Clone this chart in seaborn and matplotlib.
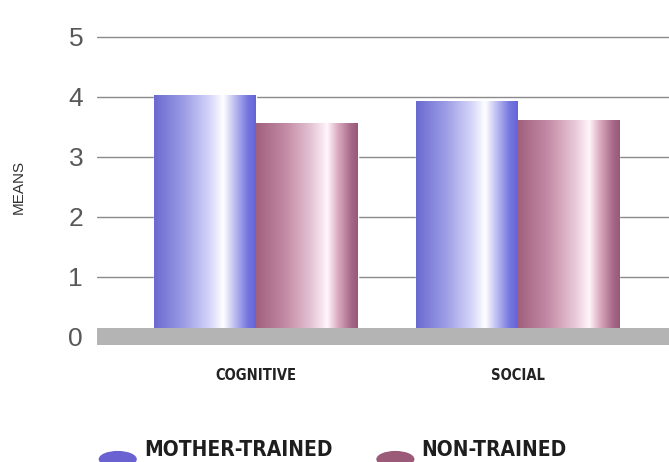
import numpy as np
import pandas as pd
import matplotlib
matplotlib.use("Agg")
import matplotlib.pyplot as plt
import seaborn as sns
from matplotlib.colors import LinearSegmentedColormap
from matplotlib.patches import Ellipse

categories = ["COGNITIVE", "SOCIAL"]
groups = ["MOTHER-TRAINED", "NON-TRAINED"]
mother_trained = [4.03, 3.93]
non_trained = [3.57, 3.62]
y_ticks = [0, 1, 2, 3, 4, 5]

df = pd.DataFrame({
    "category": categories * 2,
    "group": [groups[0]] * 2 + [groups[1]] * 2,
    "mean": mother_trained + non_trained,
})

sns.set_style("white")
narrow = dict(family=["DejaVu Sans"], stretch="condensed", weight="bold")

base_colors = {groups[0]: "#6a62d0", groups[1]: "#9a5a78"}
gradients = {
    groups[0]: LinearSegmentedColormap.from_list("blue_bar", [
        (0.0, "#6a6ad0"), (0.3, "#9e9ee6"), (0.55, "#d6d6fa"),
        (0.68, "#ffffff"), (0.78, "#c4c4f2"), (0.92, "#7676e0"), (1.0, "#6464d8")]),
    groups[1]: LinearSegmentedColormap.from_list("mauve_bar", [
        (0.0, "#a0607e"), (0.3, "#c48ca6"), (0.55, "#e6c6d6"),
        (0.7, "#fff6fa"), (0.8, "#dcaec2"), (0.93, "#a86a88"), (1.0, "#98587a")]),
}

fig = plt.figure(figsize=(6.69, 4.62), dpi=100)
ax = fig.add_axes([0.145, 0.2446, 0.855, 0.7143])

sns.barplot(data=df, x="category", y="mean", hue="group", hue_order=groups,
            palette=base_colors, width=0.78, ax=ax, legend=False,
            errorbar=None, zorder=2)

# cylinder-like shading on every bar
grad = np.linspace(0, 1, 256).reshape(1, -1)
for i, patch in enumerate(ax.patches):
    grp = groups[i // len(categories)]
    x0, y0 = patch.get_x(), patch.get_y()
    w, h = patch.get_width(), patch.get_height()
    im = ax.imshow(grad, cmap=gradients[grp], extent=[x0, x0 + w, y0, y0 + h],
                   aspect="auto", zorder=2.5, interpolation="bilinear")
    im.set_clip_path(patch)

# grey floor
ax.axhspan(-0.14, 0.15, xmin=0, xmax=1, color="#b4b4b4", zorder=3, lw=0)

ax.set_xlim(-0.61, 1.58)
ax.set_ylim(-0.2, 5.3)
ax.set_yticks(y_ticks)
for y in y_ticks[1:]:
    ax.axhline(y, color="#8a8a8a", lw=1, zorder=1)

ax.set_yticklabels([str(t) for t in y_ticks], fontsize=19, color="#585858",
                   family=["Liberation Sans", "DejaVu Sans"])
ax.tick_params(axis="y", length=0, pad=10)
ax.tick_params(axis="x", length=0, pad=14)
ax.set_xticks(range(len(categories)))
ax.set_xticklabels(categories, fontsize=10.5, color="#222222", **narrow)
ax.set_xlabel("")
ax.set_ylabel("MEANS", fontsize=11, color="#333333", labelpad=29,
              family=["Liberation Sans", "DejaVu Sans"])
ax.yaxis.set_label_coords(-0.125, 0.49)
sns.despine(ax=ax, left=True, bottom=True, top=True, right=True)

# legend: flattened ovals with bold labels along the bottom edge
legend_x = [0.142, 0.557]
for g, x in zip(groups, legend_x):
    fig.add_artist(Ellipse((x + 0.034, 0.006), 0.057, 0.036,
                           transform=fig.transFigure, color=base_colors[g], lw=0))
    fig.text(x + 0.073, 0.014, g, fontsize=15, color="#1e1e1e",
             va="baseline", **narrow)

fig.savefig("out.png", dpi=100)
